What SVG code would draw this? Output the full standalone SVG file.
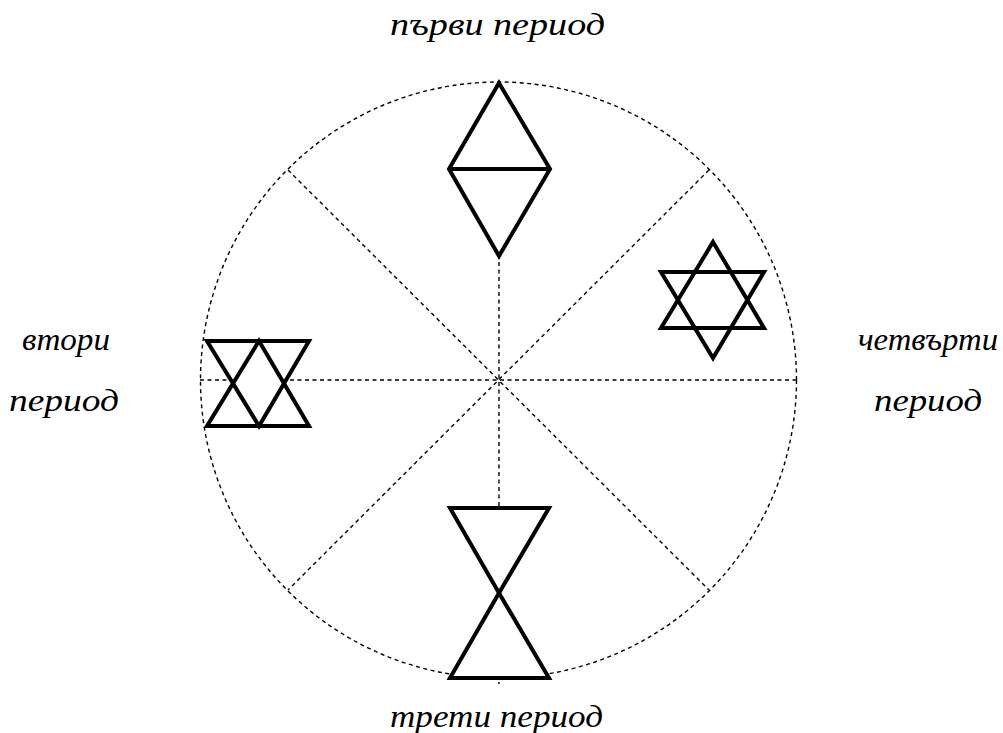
<svg xmlns="http://www.w3.org/2000/svg" width="1003" height="733" viewBox="0 0 1003 733">
<style>
.dash{fill:none;stroke:#000;stroke-width:1.4;stroke-dasharray:4 3.5}
.fill{fill:#fff;stroke:none}
.sym{fill:none;stroke:#000;stroke-width:4;stroke-linejoin:miter}
.lbl{font-family:"Liberation Serif","Times New Roman",serif;font-style:italic;font-weight:normal;font-size:31px;fill:#000}
</style>
<rect width="1003" height="733" fill="#fff"/>
<g id="connectors">
<circle class="dash" cx="498.5" cy="380" r="298"/>
<line class="dash" x1="200" y1="380" x2="797" y2="380"/>
<line class="dash" x1="499" y1="82" x2="499" y2="684"/>
<line class="dash" x1="288" y1="170" x2="709" y2="590"/>
<line class="dash" x1="709" y1="170" x2="288" y2="590"/>
</g>
<g id="first">
<polygon class="fill" points="499,83 550,169 499,256 449,169"/>
<polygon class="sym" points="499,83 550,169 499,256 449,169"/>
<line class="sym" x1="449" y1="169" x2="550" y2="169"/>
</g>
<g id="second">
<polygon class="fill" points="207,341 309,341 259,426"/>
<polygon class="fill" points="259,341 309,426 207,426"/>
<polygon class="sym" points="207,341 309,341 259,426"/>
<polygon class="sym" points="259,341 309,426 207,426"/>
</g>
<g id="third">
<polygon class="fill" points="450,508 549,508 499,593"/>
<polygon class="fill" points="499,593 549,678 450,678"/>
<polygon class="sym" points="450,508 549,508 499,593"/>
<polygon class="sym" points="499,593 549,678 450,678"/>
</g>
<g id="fourth">
<polygon class="fill" points="713,242 764,328 661,328"/>
<polygon class="fill" points="661,272 764,272 713,358"/>
<polygon class="sym" points="713,242 764,328 661,328"/>
<polygon class="sym" points="661,272 764,272 713,358"/>
</g>
<g id="labels">
<text class="lbl" x="390" y="35" textLength="215" lengthAdjust="spacingAndGlyphs">първи период</text>
<text class="lbl" x="22" y="350" textLength="88" lengthAdjust="spacingAndGlyphs">втори</text>
<text class="lbl" x="9" y="411" textLength="110" lengthAdjust="spacingAndGlyphs">период</text>
<text class="lbl" x="858" y="350" textLength="140" lengthAdjust="spacingAndGlyphs">четвърти</text>
<text class="lbl" x="874" y="411" textLength="108" lengthAdjust="spacingAndGlyphs">период</text>
<text class="lbl" x="390" y="727" textLength="213" lengthAdjust="spacingAndGlyphs">трети период</text>
</g>
</svg>
